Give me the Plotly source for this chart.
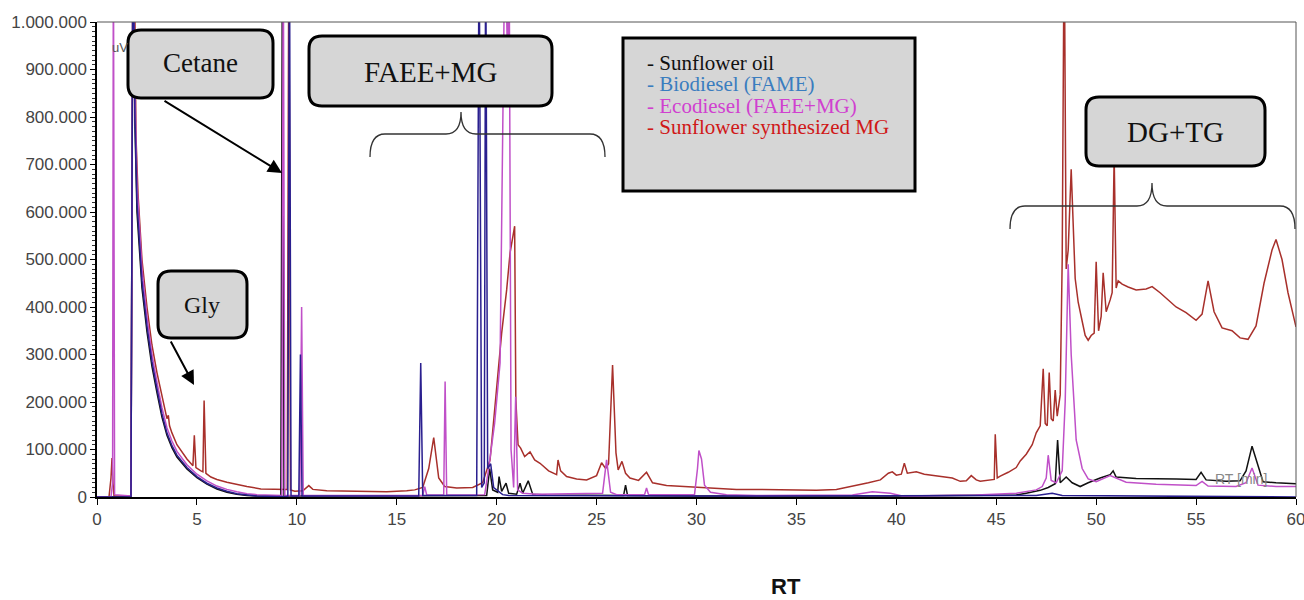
import plotly.graph_objects as go

# ---------------- data (RT in min, signal in uV) ----------------
red_x = [0.0, 0.6, 0.7, 0.75, 0.8, 0.85, 1.7, 1.8, 1.88, 1.95, 2.05, 2.25, 2.5, 2.75, 3.0, 3.25, 3.5, 3.57, 3.63,
         3.75, 4.0, 4.5, 4.8, 4.87, 4.95, 5.2, 5.3, 5.36, 5.45, 5.7, 6.0, 6.5, 7.0, 7.5, 8.2, 9.0, 9.52, 9.6, 9.68,
         9.9, 10.3, 10.6, 10.8, 11.5, 12.5, 13.5, 14.5, 15.5, 15.9, 16.3, 16.6, 16.85, 17.1, 17.4, 18.0, 18.8,
         19.3, 19.67, 20.0, 20.25, 20.5, 20.67, 20.9, 20.96, 21.07, 21.2, 21.4, 21.67, 21.9, 22.17, 22.6, 23.0,
         23.07, 23.2, 23.5, 24.0, 24.5, 25.0, 25.25, 25.45, 25.6, 25.8, 25.97, 26.08, 26.27, 26.45, 26.67, 27.1,
         27.5, 27.8, 28.5, 29.3, 30.0, 31.0, 32.0, 33.0, 34.0, 35.0, 36.0, 37.0, 37.5, 38.0, 38.6, 39.2, 39.6,
         39.8, 40.0, 40.25, 40.4, 40.55, 40.8, 41.0, 41.4, 41.8, 42.3, 42.8, 43.2, 43.5, 43.75, 44.0, 44.2, 44.7,
         44.9, 44.95, 45.05, 45.2, 45.6, 46.0, 46.2, 46.5, 46.8, 47.0, 47.2, 47.35, 47.45, 47.55, 47.65, 47.75,
         47.85, 47.95, 48.05, 48.2, 48.3, 48.4, 48.5, 48.6, 48.75, 48.95, 49.1, 49.3, 49.45, 49.6, 49.75, 49.9,
         50.0, 50.12, 50.25, 50.35, 50.5, 50.7, 50.8, 50.9, 51.0, 51.1, 51.3, 51.6, 52.0, 52.5, 52.8, 53.2, 53.6,
         54.0, 54.5, 55.0, 55.3, 55.6, 55.9, 56.3, 56.8, 57.2, 57.6, 58.0, 58.4, 58.8, 59.0, 59.3, 59.6, 60.0]
red_y = [0, 0, 40000, 82000, 30000, 2000, 2000, 1200000, 1100000, 760000, 640000, 500000, 400000, 320000, 262000,
         210000, 165000, 172000, 150000, 135000, 110000, 80000, 66000, 130000, 62000, 55000, 53000, 203000, 50000,
         42000, 37000, 31000, 26000, 22000, 17000, 16000, 16000, 1200000, 15000, 12000, 13000, 24000, 16000,
         13000, 12000, 11000, 11000, 13000, 15000, 20000, 60000, 125000, 40000, 22000, 19000, 20000, 30000, 78000,
         240000, 345000, 436000, 514000, 570000, 204000, 110000, 103000, 85000, 95000, 78000, 71000, 55000, 47000,
         78000, 55000, 43000, 38000, 36000, 45000, 72000, 60000, 70000, 278000, 93000, 57000, 75000, 50000, 40000,
         35000, 52000, 30000, 24000, 22000, 20000, 17000, 16000, 16000, 15000, 15000, 14000, 16000, 20000, 25000,
         30000, 36000, 50000, 53000, 46000, 48000, 71000, 50000, 52000, 53000, 48000, 46000, 42000, 40000, 33000,
         34000, 45000, 36000, 33000, 36000, 37000, 132000, 40000, 44000, 52000, 62000, 76000, 90000, 110000,
         135000, 150000, 270000, 155000, 150000, 262000, 165000, 160000, 225000, 170000, 215000, 500000, 1200000,
         480000, 520000, 690000, 460000, 410000, 370000, 340000, 330000, 340000, 345000, 495000, 350000, 380000,
         472000, 390000, 415000, 430000, 720000, 440000, 455000, 448000, 442000, 436000, 438000, 443000, 430000,
         415000, 400000, 388000, 372000, 385000, 455000, 390000, 356000, 350000, 335000, 332000, 360000, 450000,
         520000, 542000, 500000, 430000, 358000]

blue_x = [0.0, 1.7, 1.8, 1.9, 2.0, 2.25, 2.5, 2.75, 3.0, 3.25, 3.5, 3.75, 4.0, 4.5, 5.0, 5.5, 6.0, 6.5, 7.0, 7.5,
          8.0, 9.0, 9.55, 9.63, 9.71, 10.1, 10.18, 10.26, 16.1, 16.2, 16.3, 19.0, 19.12, 19.25, 19.38, 19.45, 19.55,
          19.7, 19.85, 20.3, 20.6, 30.0, 47.0, 47.8, 48.3, 60.0]
blue_y = [0, 0, 1200000, 800000, 620000, 455000, 360000, 285000, 228000, 175000, 135000, 108000, 88000, 62000,
          43000, 29000, 19000, 12000, 7000, 4000, 2000, 1000, 1000, 1200000, 2000, 2000, 300000, 2000, 2000, 282000,
          3000, 3000, 1200000, 20000, 30000, 1200000, 60000, 70000, 20000, 5000, 3000, 2000, 3000, 8000, 3000, 0]

black_x = [0.0, 1.7, 1.8, 1.9, 2.0, 2.25, 2.5, 2.75, 3.0, 3.25, 3.5, 3.75, 4.0, 4.5, 5.0, 5.5, 6.0, 6.5, 7.0, 7.5,
           8.0, 9.2, 9.28, 9.36, 19.5, 19.65, 19.8, 20.05, 20.12, 20.25, 20.47, 20.6, 21.0, 21.17, 21.3, 21.58, 21.8,
           22.5, 26.35, 26.45, 26.55, 30.0, 40.0, 46.0, 46.5, 47.2, 47.6, 47.95, 48.07, 48.2, 48.5, 48.8, 49.2,
           49.6, 50.2, 50.7, 50.85, 51.0, 52.0, 53.0, 54.0, 55.0, 55.25, 55.5, 56.5, 57.2, 57.5, 57.8, 58.1, 58.35,
           59.0, 60.0]
black_y = [0, 0, 1200000, 780000, 600000, 440000, 348000, 275000, 220000, 168000, 130000, 104000, 84000, 59000,
           41000, 27000, 17000, 10000, 6000, 3000, 2000, 1000, 1200000, 2000, 3000, 60000, 15000, 10000, 43000,
           12000, 29000, 8000, 6000, 29000, 8000, 34000, 6000, 4000, 3000, 25000, 3000, 2000, 2000, 4000, 8000,
           14000, 20000, 28000, 120000, 30000, 42000, 30000, 22000, 30000, 40000, 47000, 55000, 42000, 39000, 39000,
           38000, 37000, 52000, 36000, 33000, 34000, 55000, 107000, 65000, 32000, 30000, 28000]

mag_x = [0.0, 0.7, 0.78, 0.82, 0.88, 1.7, 1.8, 1.9, 2.0, 2.25, 2.5, 2.75, 3.0, 3.25, 3.5, 3.75, 4.0, 4.5, 5.0, 5.5,
         6.0, 6.5, 7.0, 7.5, 8.0, 9.0, 9.25, 9.32, 9.4, 10.15, 10.24, 10.32, 16.3, 16.4, 16.5, 17.35, 17.42, 17.5,
         19.4, 19.6, 19.9, 20.17, 20.3, 20.42, 20.55, 20.62, 20.72, 20.85, 20.95, 21.05, 21.3, 22.0, 25.3, 25.5,
         25.7, 26.0, 27.4, 27.5, 27.6, 29.9, 30.05, 30.12, 30.25, 30.4, 30.7, 31.5, 33.0, 37.0, 37.8, 38.8, 39.7,
         40.3, 44.0, 46.0, 47.0, 47.3, 47.5, 47.6, 47.75, 48.0, 48.3, 48.45, 48.6, 48.75, 49.0, 49.3, 49.6, 50.0,
         50.7, 51.5, 53.0, 55.0, 55.3, 55.6, 57.0, 57.5, 57.8, 58.1, 59.0, 60.0]
mag_y = [0, 0, 30000, 1200000, 5000, 2000, 1200000, 850000, 660000, 480000, 380000, 300000, 242000, 188000, 146000,
         118000, 96000, 68000, 48000, 34000, 23000, 16000, 11000, 7000, 5000, 3000, 3000, 1200000, 3000, 3000,
         400000, 3000, 3000, 22000, 4000, 4000, 243000, 4000, 5000, 60000, 156000, 282000, 700000, 1200000, 900000,
         1200000, 100000, 20000, 211000, 15000, 8000, 6000, 8000, 78000, 10000, 5000, 5000, 19000, 5000, 5000,
         60000, 98000, 80000, 25000, 10000, 5000, 3000, 3000, 4000, 11000, 8000, 2000, 4000, 8000, 15000, 22000,
         40000, 88000, 35000, 30000, 55000, 200000, 490000, 300000, 120000, 60000, 38000, 32000, 45000, 31000,
         27000, 24000, 33000, 23000, 22000, 30000, 61000, 25000, 22000, 22000]

y_tick_vals = [0, 100000, 200000, 300000, 400000, 500000, 600000, 700000, 800000, 900000, 1000000]
y_tick_text = ["0", "100.000", "200.000", "300.000", "400.000", "500.000", "600.000", "700.000", "800.000",
               "900.000", "1.000.000"]
x_tick_vals = [0, 5, 10, 15, 20, 25, 30, 35, 40, 45, 50, 55, 60]

legend_lines = ["- Sunflower oil", "- Biodiesel (FAME)", "- Ecodiesel (FAEE+MG)", "- Sunflower synthesized MG"]
legend_colors = ["#111111", "#3a7dbf", "#d040d0", "#d01818"]

# ---------------- geometry helpers (pixel -> paper) ----------------
W_IMG, H_IMG = 1304, 600
L, R, T, B = 97, 8, 22, 103
PW, PH = W_IMG - L - R, H_IMG - T - B
BOT = H_IMG - B


def px(x):
    return (x - L) / PW


def py(y):
    return (BOT - y) / PH


def rrect_path(x0, y0, x1, y1, r):
    pts = [("M", [(x0 + r, y0)]), ("L", [(x1 - r, y0)]), ("Q", [(x1, y0), (x1, y0 + r)]),
           ("L", [(x1, y1 - r)]), ("Q", [(x1, y1), (x1 - r, y1)]), ("L", [(x0 + r, y1)]),
           ("Q", [(x0, y1), (x0, y1 - r)]), ("L", [(x0, y0 + r)]), ("Q", [(x0, y0), (x0 + r, y0)])]
    s = ""
    for cmd, cs in pts:
        s += cmd + " " + " ".join(f"{px(a):.5f},{py(b):.5f}" for a, b in cs) + " "
    return s + "Z"


def brace_path(xl, xr, xm, yline, ytip, yend, c=15):
    segs = [("M", [(xl, yend)]), ("Q", [(xl, yline), (xl + c, yline)]), ("L", [(xm - c, yline)]),
            ("Q", [(xm, yline), (xm, ytip)]), ("Q", [(xm, yline), (xm + c, yline)]), ("L", [(xr - c, yline)]),
            ("Q", [(xr, yline), (xr, yend)])]
    s = ""
    for cmd, cs in segs:
        s += cmd + " " + " ".join(f"{px(a):.5f},{py(b):.5f}" for a, b in cs) + " "
    return s.strip()


fig = go.Figure()
series = [("Sunflower synthesized MG", red_x, red_y, "#a8302b"),
          ("Sunflower oil", black_x, black_y, "#111111"),
          ("Ecodiesel (FAEE+MG)", mag_x, mag_y, "#c050c8"),
          ("Biodiesel (FAME)", blue_x, blue_y, "#2a1f8f")]
for name, xs, ys, col in series:
    fig.add_trace(go.Scatter(x=xs, y=ys, mode="lines", name=name, line=dict(color=col, width=1.5),
                             showlegend=False, cliponaxis=True))

shapes = []
# frame top / right
shapes.append(dict(type="line", xref="paper", yref="paper", x0=0, x1=1, y0=1, y1=1, line=dict(color="#555", width=1)))
shapes.append(dict(type="line", xref="paper", yref="paper", x0=1, x1=1, y0=0, y1=1, line=dict(color="#555", width=1)))
# braces
shapes.append(dict(type="path", xref="paper", yref="paper", path=brace_path(370, 605, 461, 134, 112, 157),
                   line=dict(color="#333", width=1.3)))
shapes.append(dict(type="path", xref="paper", yref="paper", path=brace_path(1010, 1295, 1152, 206, 183, 229),
                   line=dict(color="#333", width=1.3)))
# boxes
box_fill = "#d6d6d6"
for (x0, y0, x1, y1) in [(128, 30, 273, 98), (309, 36, 552, 106), (158, 271, 247, 338), (1086, 97, 1265, 166)]:
    shapes.append(dict(type="path", xref="paper", yref="paper", path=rrect_path(x0, y0, x1, y1, 13),
                       fillcolor=box_fill, line=dict(color="black", width=3)))
# legend box
shapes.append(dict(type="rect", xref="paper", yref="paper", x0=px(623), x1=px(915), y0=py(38), y1=py(191),
                   fillcolor=box_fill, line=dict(color="black", width=3)))

annotations = []
serif = "Liberation Serif"
for text, cx, cy, size in [("Cetane", 200, 63, 27), ("FAEE+MG", 430, 72, 29), ("Gly", 202, 305, 24),
                           ("DG+TG", 1175, 132, 29)]:
    annotations.append(dict(text=text, x=px(cx), y=py(cy), xref="paper", yref="paper", showarrow=False,
                            font=dict(family=serif, size=size, color="#111"), xanchor="center", yanchor="middle"))
legend_text = "<br>".join(f"<span style='color:{c};font-size:21px'>{t}</span>"
                          for t, c in zip(legend_lines, legend_colors))
annotations.append(dict(text=legend_text, x=px(645), y=py(95), xref="paper", yref="paper", showarrow=False,
                        align="left", font=dict(family=serif, size=16.5, color="#111"), xanchor="left",
                        yanchor="middle"))
# arrows
for (tx, ty, sx, sy) in [(282, 173, 163, 100), (194, 385, 170, 340)]:
    annotations.append(dict(x=px(tx), y=py(ty), xref="paper", yref="paper", ax=sx - tx, ay=sy - ty,
                            axref="pixel", ayref="pixel", showarrow=True, arrowhead=2, arrowsize=1.4,
                            arrowwidth=2, arrowcolor="black", text=""))
annotations.append(dict(text="uV", x=px(110), y=py(38), xref="paper", yref="paper", showarrow=False,
                        font=dict(family="Liberation Sans", size=13, color="#555")))
annotations.append(dict(text="RT [min]", x=px(1269), y=py(489), xref="paper", yref="paper", showarrow=False,
                        font=dict(family="Liberation Sans", size=14, color="#888")))
annotations.append(dict(text="<b>RT</b>", x=px(786), y=py(586), xref="paper", yref="paper", showarrow=False,
                        font=dict(family="Liberation Sans", size=22, color="#111"), yanchor="middle"))

fig.update_layout(
    width=W_IMG, height=H_IMG, margin=dict(l=L, r=R, t=T, b=B, autoexpand=False),
    paper_bgcolor="white", plot_bgcolor="white",
    xaxis=dict(range=[0, 60], tickmode="array", tickvals=x_tick_vals, showgrid=False, zeroline=False,
               showline=True, linecolor="black", linewidth=2, ticks="outside", ticklen=6, tickcolor="black",
               ticklabeloverflow="allow", automargin=False,
               tickfont=dict(family="Liberation Sans", size=17, color="#444")),
    yaxis=dict(range=[0, 1000000], tickmode="array", tickvals=y_tick_vals, ticktext=y_tick_text, showgrid=False,
               zeroline=False, showline=True, linecolor="black", linewidth=1.5, ticks="outside", ticklen=5,
               automargin=False,
               tickcolor="black", tickfont=dict(family="Liberation Sans", size=17, color="#444"),
               minor=dict(dtick=10000, tick0=0, ticks="outside", ticklen=3, tickcolor="#333", showgrid=False)),
    shapes=shapes, annotations=annotations, showlegend=False,
)
fig.write_html("out.html")
